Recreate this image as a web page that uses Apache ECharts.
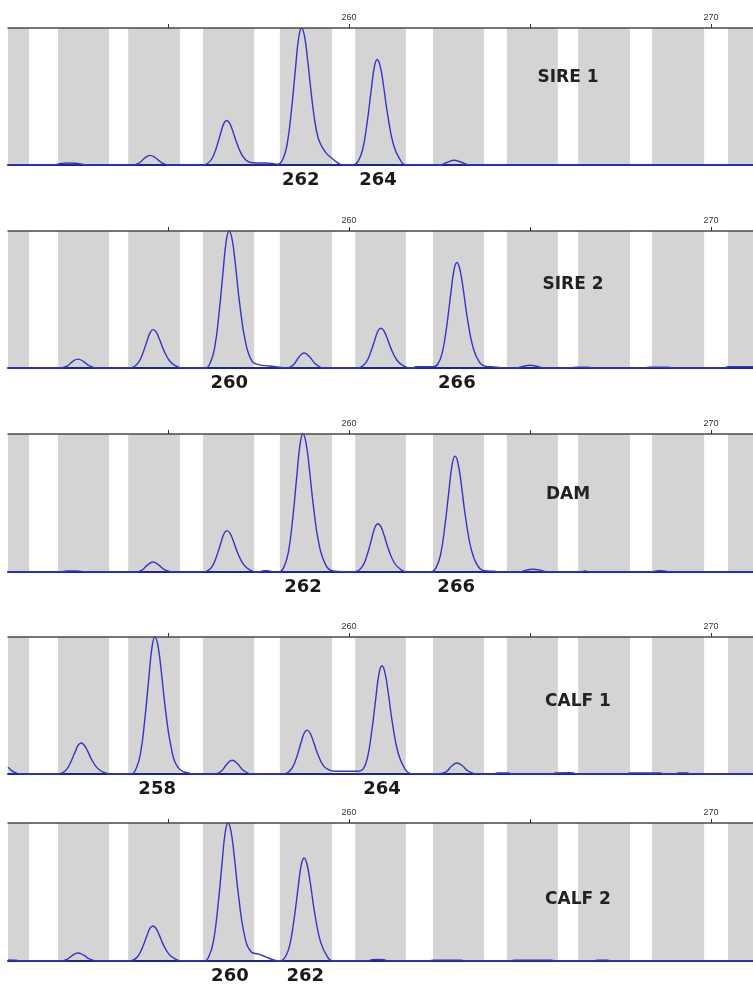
<!DOCTYPE html>
<html>
<head>
<meta charset="utf-8">
<script src="https://cdn.jsdelivr.net/npm/echarts@6/dist/echarts.min.js"></script>
<style>
html,body{margin:0;padding:0;background:#fff;}
#chart{width:753px;height:988px;}
</style>
</head>
<body>
<div id="chart"></div>
<script>
// fragment size axis (bp)
var sizeMin = 250.58, sizeMax = 271.16;
var tickValues = [255, 260, 265, 270];
var tickLabels = [260, 270];

// allele bins (grey bands)
var bins = [
  [250.58, 251.16], [251.96, 253.37], [253.90, 255.33], [255.97, 257.38],
  [258.09, 259.53], [260.17, 261.57], [262.32, 263.73], [264.36, 265.77],
  [266.33, 267.76], [268.37, 269.81], [270.47, 271.16]
];

var samples = ['SIRE 1', 'SIRE 2', 'DAM', 'CALF 1', 'CALF 2'];

// traces: [size, signal %]
var sire1Trace = [
  [250.58,0],[251.85,0],[252.05,1.2],[252.24,1.5],[252.45,1.3],[252.7,0.3],[252.9,0],
  [254.0,0],[254.2,1.4],[254.35,4.9],[254.5,7],[254.65,5.3],[254.82,1.8],[255.05,0],
  [255.96,0],[256.1,1.3],[256.22,4.9],[256.34,13],[256.45,22.8],[256.54,30.2],[256.62,32.5],[256.7,30.6],[256.79,24.7],[256.91,15.3],[257.07,6.2],[257.25,2],[257.42,1.5],[257.7,1.5],[257.95,0.8],
  [258.03,0.5],[258.17,4],[258.29,15],[258.41,40],[258.52,70],[258.61,93],[258.69,100],[258.77,94],[258.86,76],[258.98,47],[259.1,25],[259.2,16],[259.36,9],[259.5,5.5],[259.64,2.5],[259.83,0],
  [260.12,0],[260.26,3.1],[260.38,11.6],[260.5,30.8],[260.61,53.9],[260.7,71.6],[260.78,77],[260.86,72.4],[260.95,58.5],[261.07,36.2],[261.23,14.6],[261.41,3.9],[261.58,0],
  [262.5,0],[262.7,1.8],[262.9,3.5],[263.1,2],[263.35,0],
  [271.16,0]
];
var sire2Trace = [
  [250.58,0],
  [252.01,0],[252.21,1.3],[252.36,4.6],[252.51,6.5],[252.66,4.9],[252.83,1.6],[253.06,0],
  [253.93,0],[254.07,1.1],[254.19,4.2],[254.31,11.2],[254.42,19.6],[254.51,26],[254.59,28],[254.67,26.3],[254.76,21.3],[254.88,13.2],[255.04,5.3],[255.22,1.4],[255.39,0],
  [256.03,0],[256.17,4],[256.29,15],[256.41,40],[256.52,70],[256.61,93],[256.69,100],[256.77,94],[256.86,76],[256.98,47],[257.14,19],[257.32,5],[257.5,2.5],[257.8,1.5],[258.1,0.5],[258.3,0],
  [258.46,2.2],[258.61,7.7],[258.76,11],[258.91,8.3],[259.08,2.8],[259.31,0],
  [260.22,0],[260.36,1.2],[260.48,4.4],[260.6,11.6],[260.71,20.3],[260.8,27],[260.88,29],[260.96,27.3],[261.05,22],[261.17,13.6],[261.33,5.5],[261.51,1.5],[261.68,0],
  [261.77,0],[261.85,1],[262.32,1],[262.46,3.1],[262.58,11.6],[262.7,30.8],[262.81,53.9],[262.9,71.6],[262.98,77],[263.06,72.4],[263.15,58.5],[263.27,36.2],[263.43,14.6],[263.61,3.9],[263.78,1.2],[264.0,0.8],[264.2,0.3],
  [264.6,0],[264.85,1.5],[265.0,2],[265.15,1.5],[265.4,0],
  [266.0,0],[266.3,0.6],[266.6,0.6],[266.8,0],[268.1,0],[268.3,0.6],[268.8,0.6],[269.0,0],
  [270.3,0],[270.5,1],[271.16,1]
];
var damTrace = [
  [250.58,0],
  [252.0,0],[252.2,0.7],[252.5,0.8],[252.7,0],
  [254.08,0],[254.28,1.4],[254.43,5],[254.58,7.2],[254.73,5.4],[254.9,1.8],[255.13,0],
  [255.97,0],[256.11,1.2],[256.23,4.5],[256.35,12],[256.46,21],[256.55,27.9],[256.63,30],[256.71,28.2],[256.8,22.8],[256.92,14.1],[257.08,5.7],[257.26,1.5],[257.43,0],[257.55,0.3],[257.65,1],[257.75,1],[257.88,0.3],
  [258.07,0],[258.21,4],[258.33,15],[258.45,40],[258.56,70],[258.65,93],[258.73,100],[258.81,94],[258.9,76],[259.02,47],[259.18,19],[259.36,5],[259.53,1],[259.8,0.3],[260.0,0],
  [260.14,0],[260.28,1.4],[260.4,5.3],[260.52,14],[260.63,24.5],[260.72,32.6],[260.8,35],[260.88,32.9],[260.97,26.6],[261.09,16.5],[261.25,6.7],[261.43,1.8],[261.6,0],
  [262.27,0],[262.41,3.4],[262.53,12.6],[262.65,33.6],[262.76,58.8],[262.85,78.1],[262.93,84],[263.01,79],[263.1,63.8],[263.22,39.5],[263.38,16],[263.56,4.2],[263.73,1],[264.0,0.5],[264.2,0],
  [264.7,0],[264.92,1.5],[265.08,2],[265.25,1.5],[265.5,0],
  [266.4,0],[266.52,0.8],[266.65,0],[268.3,0],[268.45,0.6],[268.6,1],[268.75,0.6],[268.9,0],
  [271.16,0]
];
var calf1Trace = [
  [250.58,5],[250.68,2.5],[250.8,0.8],[250.95,0],
  [251.94,0],[252.08,0.9],[252.2,3.4],[252.32,9],[252.43,15.8],[252.52,21],[252.6,22.6],[252.68,21.2],[252.77,17.2],[252.89,10.6],[253.05,4.3],[253.23,1.1],[253.4,0],
  [253.98,0],[254.12,4],[254.24,15],[254.36,40],[254.47,70],[254.56,93],[254.64,100],[254.72,94],[254.81,76],[254.93,47],[255.09,19],[255.27,5],[255.6,0.5],[255.8,0],
  [256.27,0],[256.47,2],[256.62,7],[256.77,10],[256.92,7.5],[257.09,2.5],[257.32,0],
  [258.18,0],[258.32,1.3],[258.44,4.8],[258.56,12.8],[258.67,22.4],[258.76,29.8],[258.84,32],[258.92,30.1],[259.01,24.3],[259.13,15],[259.29,6.1],[259.45,3],[259.6,2],[260.1,2],
  [260.25,2],[260.39,3.5],[260.51,11.9],[260.63,31.6],[260.74,55.3],[260.83,73.5],[260.91,79],[260.99,74.3],[261.08,60],[261.2,37.1],[261.36,15],[261.54,4],[261.71,0.3],
  [262.48,0.3],[262.68,1.6],[262.83,5.6],[262.98,8],[263.13,6],[263.3,2],[263.53,0],
  [264.0,0],[264.1,0.8],[264.4,0.8],[264.5,0],[265.6,0],[265.7,0.7],[266.1,1],[266.2,0.7],[266.3,0],
  [267.65,0],[267.75,0.7],[268.6,0.7],[268.7,0],[269.0,0],[269.1,0.7],[269.35,0.7],[269.45,0],
  [271.16,0]
];
var calf2Trace = [
  [250.58,0.8],[250.8,0.5],[250.95,0],
  [252.01,0],[252.21,1.2],[252.36,4.1],[252.51,5.8],[252.66,4.4],[252.83,1.5],[253.06,0],
  [253.92,0],[254.06,1],[254.18,3.8],[254.3,10.2],[254.41,17.8],[254.5,23.6],[254.58,25.4],[254.66,23.9],[254.75,19.3],[254.87,11.9],[255.03,4.8],[255.21,1.3],[255.38,0],
  [256.0,0],[256.14,4],[256.26,15],[256.38,40],[256.49,70],[256.58,93],[256.66,100],[256.74,94],[256.83,76],[256.95,47],[257.11,19],[257.3,6.5],[257.5,5],[257.7,3],[257.9,1],[258.05,0],
  [258.1,0],[258.24,3],[258.36,11.2],[258.48,29.8],[258.59,52.2],[258.68,69.4],[258.76,74.6],[258.84,70.1],[258.93,56.7],[259.05,35.1],[259.21,14.2],[259.39,3.7],[259.56,0],
  [260.5,0],[260.65,1],[260.8,1.2],[260.95,1],[261.1,0],
  [262.2,0],[262.3,0.6],[263.1,0.6],[263.2,0],[264.45,0],[264.55,0.6],[265.6,0.6],[265.7,0],
  [266.75,0],[266.85,0.6],[267.15,0.6],[267.25,0],
  [271.16,0]
];

// allele calls: [label, size]
var sire1Alleles = [['262', 258.67], ['264', 260.80]];
var sire2Alleles = [['260', 256.69], ['266', 262.98]];
var damAlleles = [['262', 258.73], ['266', 262.96]];
var calf1Alleles = [['258', 254.70], ['264', 260.91]];
var calf2Alleles = [['260', 256.71], ['262', 258.79]];

var traces = [sire1Trace, sire2Trace, damTrace, calf1Trace, calf2Trace];
var alleles = [sire1Alleles, sire2Alleles, damAlleles, calf1Alleles, calf2Alleles];

// panel layout (px)
var panelTop = [28, 231, 434, 637, 823];
var panelHeight = [137, 137, 138, 137, 138];
var namePos = [[568, 78], [573, 285], [568, 495], [578, 702], [578, 900]];

var font = '"Liberation Sans", Arial, sans-serif';
var boldFont = '"DejaVu Sans", Verdana, sans-serif';
var grids = [], xAxes = [], yAxes = [], series = [], graphics = [];

for (var i = 0; i < 5; i++) {
  grids.push({left: 8, right: 0, top: panelTop[i], height: panelHeight[i]});
  xAxes.push({
    gridIndex: i, type: 'value', position: 'top', min: sizeMin, max: sizeMax, z: 5,
    axisLine: {show: true, onZero: false, lineStyle: {color: '#4a4a4a', width: 1.5}},
    axisTick: {show: true, customValues: tickValues, length: 4, lineStyle: {color: '#333'}},
    axisLabel: {show: true, customValues: tickLabels, fontSize: 9, color: '#333', margin: 6, fontFamily: font},
    splitLine: {show: false}
  });
  xAxes.push({
    gridIndex: i, type: 'value', position: 'bottom', min: sizeMin, max: sizeMax, z: 1,
    axisLine: {show: true, onZero: false, lineStyle: {color: '#1b2a8a', width: 2}},
    axisTick: {show: false}, axisLabel: {show: false}, splitLine: {show: false}
  });
  yAxes.push({gridIndex: i, type: 'value', min: 0, max: 100, show: false});

  series.push({
    type: 'line', xAxisIndex: i * 2, yAxisIndex: i,
    data: traces[i], showSymbol: false, smooth: 0.45,
    lineStyle: {color: '#3434c8', width: 1.4},
    z: 3,
    markArea: {
      silent: true,
      itemStyle: {color: '#d4d4d4'},
      data: bins.map(function (b) { return [{xAxis: b[0]}, {xAxis: b[1]}]; })
    }
  });
  graphics.push({
    type: 'text', x: namePos[i][0], y: namePos[i][1],
    style: {text: samples[i], fill: '#222', font: 'bold 17px ' + boldFont, textAlign: 'center', textVerticalAlign: 'middle'},
    z: 10
  });
}

var chart = echarts.init(document.getElementById('chart'));
chart.setOption({
  animation: false,
  backgroundColor: '#fff',
  grid: grids,
  xAxis: xAxes,
  yAxis: yAxes,
  series: series,
  graphic: graphics
});

// allele call labels under the baseline, placed through the axis scales
var callTexts = [];
alleles.forEach(function (list, i) {
  list.forEach(function (a) {
    var p = chart.convertToPixel({xAxisIndex: i * 2, yAxisIndex: i}, [a[1], 0]);
    callTexts.push({
      type: 'text', x: p[0], y: p[1] + 15,
      style: {text: a[0], fill: '#1a1a1a', font: 'bold 18px ' + boldFont, textAlign: 'center', textVerticalAlign: 'middle'},
      z: 10
    });
  });
});
chart.setOption({graphic: graphics.concat(callTexts)});
</script>
</body>
</html>
